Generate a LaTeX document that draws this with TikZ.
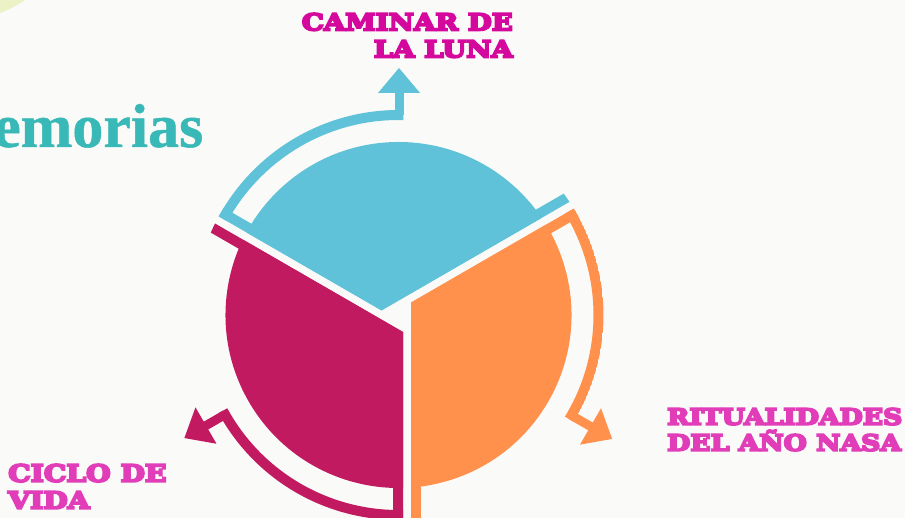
\documentclass[tikz,border=0pt]{standalone}
\usepackage{fontspec}
\newfontfamily\labelfont[FakeBold=9,FakeStretch=1.2]{DejaVu Serif Bold}
\newfontfamily\titlefont[FakeBold=0.8]{Liberation Serif Bold}
\definecolor{bgcol}{HTML}{FAFAF8}
\definecolor{cornercol}{HTML}{EDF2C6}
\definecolor{cyancol}{HTML}{5FC2D9}
\definecolor{magcol}{HTML}{C21A60}
\definecolor{orcol}{HTML}{FF914D}
\definecolor{lunacol}{HTML}{D5089E}
\definecolor{pinkcol}{HTML}{E23DB9}
\definecolor{tealcol}{HTML}{38B8B6}
\newcommand\drawpiece[2]{%
\begin{scope}[shift={(C)}, rotate=#1]
  \begin{scope}
    \clip (-17,4.62) -- +(30:600) -- +(90:800) -- +(150:600) -- cycle;
    \fill[#2] (0,0) circle (173);
    \clip (0,0) circle (205);
    \draw[#2, line width=20pt] (-17,4.62) -- +(30:400);
    \draw[#2, line width=20pt] (-17,4.62) -- +(150:400);
    \draw[#2, line width=10pt] (160:200) arc[start angle=160, end angle=88.6, radius=200];
  \end{scope}
  \fill[#2] (-4,200) rectangle (5,223);
  \fill[#2] (-20.5,222) -- (21.5,222) -- (0.5,247) -- cycle;
\end{scope}}
\begin{document}
\begin{tikzpicture}[x=1pt,y=1pt,
  lbl/.style={inner sep=0pt, font=\labelfont\fontsize{23}{27}\selectfont}]
\fill[bgcol] (0,0) rectangle (905,518);
\fill[cornercol] (-40,612.5) circle (114.7);
\coordinate (C) at (398.5,203);
\drawpiece{0}{cyancol}
\drawpiece{-120}{orcol}
\drawpiece{120}{magcol}
\node[anchor=base west, inner sep=0pt, text=tealcol, font=\titlefont\fontsize{62}{64}\selectfont] (title) at (-7,371) {emorias};
\node[lbl, text=lunacol, anchor=north east, align=right] (luna) at (513,505) {CAMINAR DE\\LA LUNA};
\node[lbl, text=pinkcol, anchor=north west, align=left, font=\labelfont\fontsize{22.2}{26}\selectfont] (rit) at (667,110) {RITUALIDADES\\DEL AÑO NASA};
\node[lbl, text=pinkcol, anchor=north west, align=left, font=\labelfont\fontsize{23.5}{27}\selectfont] (ciclo) at (8,54) {CICLO DE\\VIDA};
\pgfresetboundingbox
\useasboundingbox (0,0) rectangle (905,518);
\end{tikzpicture}
\end{document}
